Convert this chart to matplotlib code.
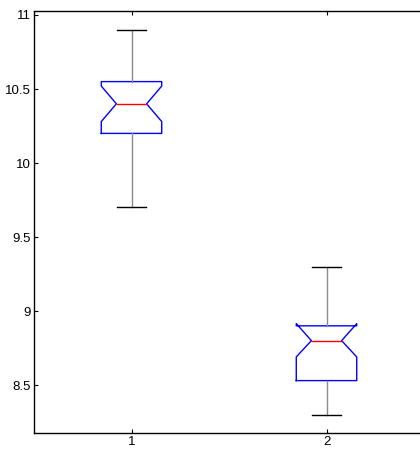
import matplotlib
matplotlib.use('Agg')
import matplotlib.pyplot as plt

# box statistics
positions = [1, 2]
whislo = [9.70, 8.30]
q1 = [10.20, 8.53]
med = [10.40, 8.80]
q3 = [10.55, 8.90]
whishi = [10.90, 9.30]
cilo = [10.28, 8.69]
cihi = [10.52, 8.915]

stats = []
for i in range(len(positions)):
    stats.append(dict(whislo=whislo[i], q1=q1[i], med=med[i], q3=q3[i],
                      whishi=whishi[i], cilo=cilo[i], cihi=cihi[i], fliers=[]))

plt.rcParams['font.family'] = ['Liberation Sans', 'DejaVu Sans']

fig = plt.figure(figsize=(4.2, 4.55), dpi=100)
ax = fig.add_axes([34 / 420, 1 - 433 / 455, 390 / 420, 422 / 455])

ax.bxp(stats, positions=positions, widths=0.31, shownotches=True,
       showfliers=False, capwidths=0.15,
       boxprops=dict(color='blue', linewidth=1),
       medianprops=dict(color='red', linewidth=1),
       whiskerprops=dict(color='0.55', linewidth=1, linestyle='-'),
       capprops=dict(color='black', linewidth=1))

ax.set_xlim(0.5, 2.5)
ax.set_ylim(8.176, 11.027)
ax.set_yticks([8.5, 9, 9.5, 10, 10.5, 11])
ax.set_yticklabels(['8.5', '9', '9.5', '10', '10.5', '11'])
ax.set_xticks(positions)
ax.set_xticklabels(['1', '2'])
ax.tick_params(direction='in', length=3, width=0.8, top=True, right=True,
               labelsize=9.5, pad=2.5)
for s in ax.spines.values():
    s.set_linewidth(1)

fig.savefig('out.png', dpi=100)
